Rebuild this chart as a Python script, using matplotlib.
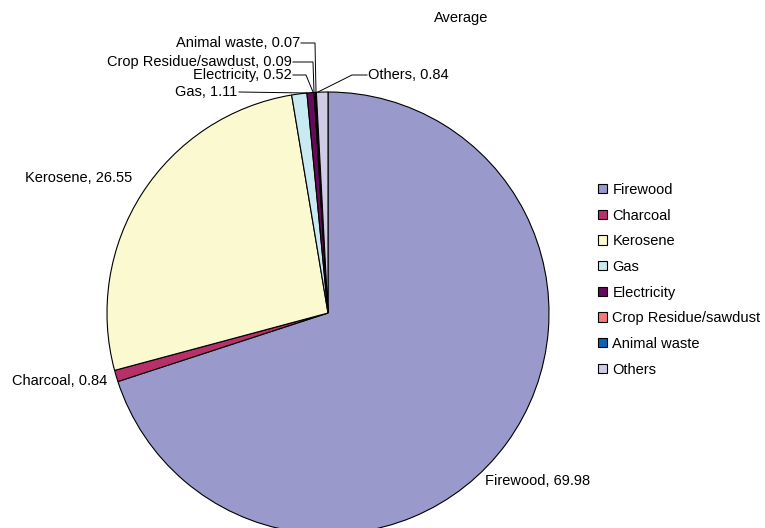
import matplotlib
matplotlib.use("Agg")
import matplotlib.pyplot as plt

plt.rcParams['font.family'] = ['Liberation Sans', 'DejaVu Sans']

fuels = ['Firewood', 'Charcoal', 'Kerosene', 'Gas', 'Electricity',
         'Crop Residue/sawdust', 'Animal waste', 'Others']
shares = [69.98, 0.84, 26.55, 1.11, 0.52, 0.09, 0.07, 0.84]
colors = ['#9999cc', '#b8306a', '#fbf9d0', '#c8eaf0', '#660a5a',
          '#f47a7a', '#0a64b4', '#d0cce6']

# label text position (pixels from top-left) and leader line path
label_pos = {
    'Firewood': (485, 481, 'left', None),
    'Charcoal': (12, 381, 'left', None),
    'Kerosene': (25, 178, 'left', None),
    'Gas': (237, 92, 'right', [(239, 92), (307, 93)]),
    'Electricity': (292, 75, 'right', [(293, 75), (306, 75), (313, 92)]),
    'Crop Residue/sawdust': (292, 62, 'right', [(293, 62), (313, 62), (314, 92)]),
    'Animal waste': (300, 43, 'right', [(301, 43), (315, 43), (316, 92)]),
    'Others': (368, 75, 'left', [(367, 75), (352, 75), (318, 92)]),
}

W, H = 765, 528
FS = 10.5
fig = plt.figure(figsize=(W / 100, H / 100), dpi=100)
ax = fig.add_axes([0, 0, 1, 1])

cx, cy, r = 328, H - 313, 221
wedges, _ = ax.pie(shares, colors=colors, startangle=90, counterclock=False,
                   center=(cx, cy), radius=r, frame=True,
                   wedgeprops=dict(edgecolor='black', linewidth=0.8))
ax.set_xlim(0, W)
ax.set_ylim(0, H)
ax.set_aspect('equal')
ax.axis('off')

for name, val in zip(fuels, shares):
    x, y, ha, path = label_pos[name]
    ax.text(x, H - y, f'{name}, {val:.2f}', ha=ha, va='center', fontsize=FS)
    if path:
        ax.plot([p[0] for p in path], [H - p[1] for p in path],
                color='black', linewidth=0.7)

ax.text(461, H - 18, 'Average', ha='center', va='center', fontsize=FS)

ax.legend(wedges, fuels, loc='upper left', bbox_to_anchor=(592 / W, 1 - 177 / H),
          bbox_transform=fig.transFigure, frameon=False, fontsize=FS,
          handlelength=0.6, handleheight=0.6, handletextpad=0.4,
          labelspacing=0.8, borderaxespad=0)

fig.savefig('out.png', dpi=100)
